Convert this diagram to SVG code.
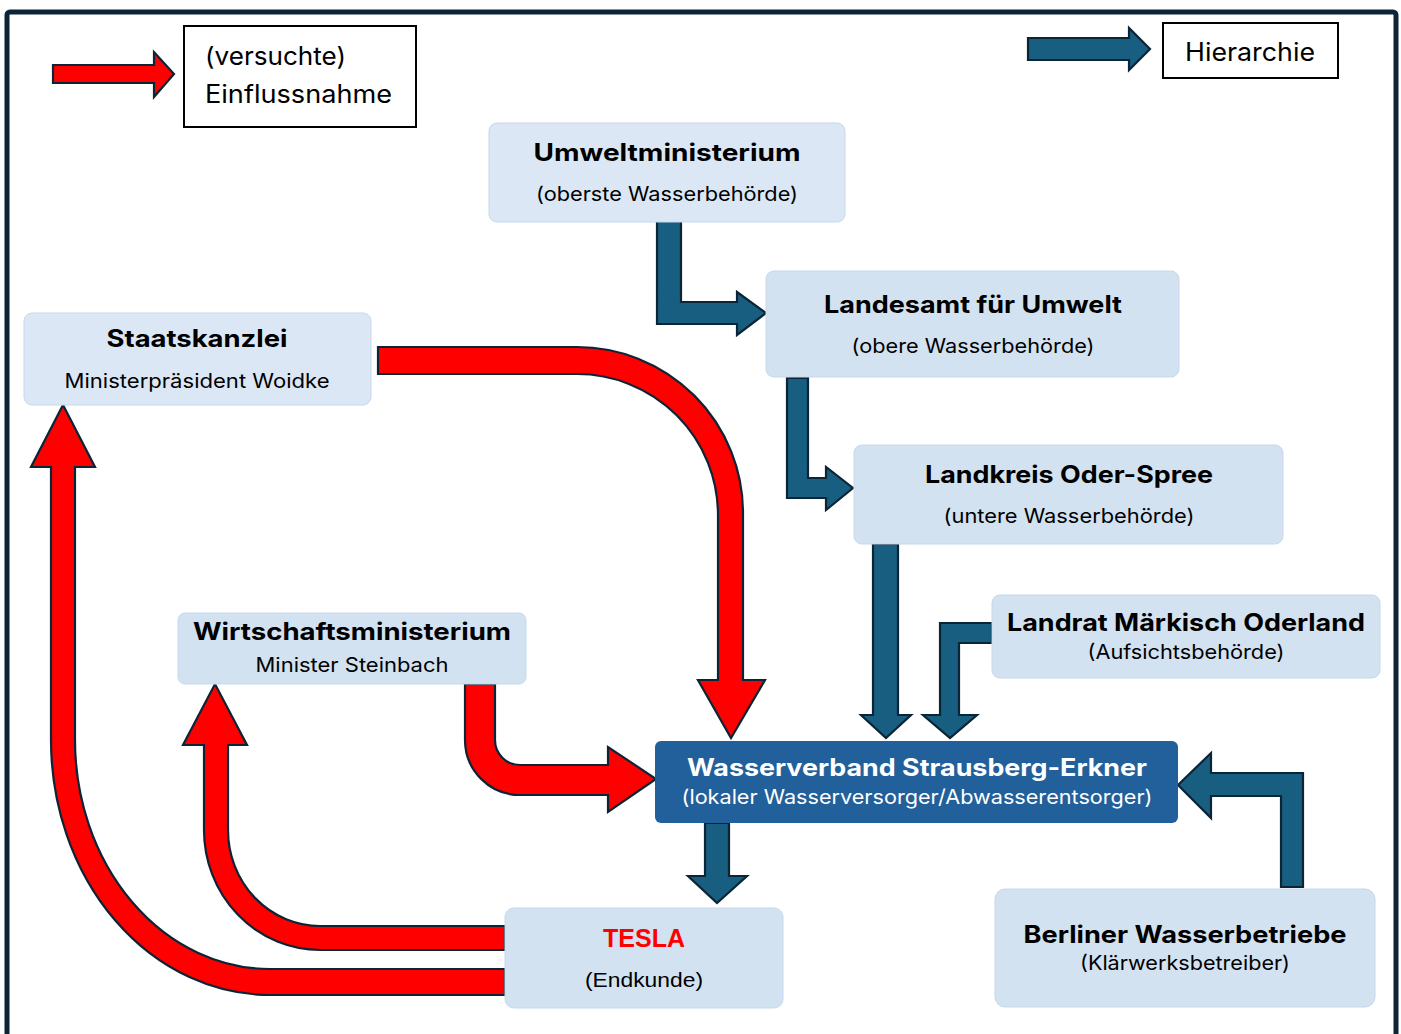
<svg xmlns="http://www.w3.org/2000/svg" width="1401" height="1034" viewBox="0 0 1401 1034">
<style>
.frame{fill:none;stroke:#0c2536;stroke-width:5}
.node{fill:#d3e2f1;stroke:#c6d9ec;stroke-width:1}
.light{fill:#dbe7f4}
.main{fill:#22609b}
.legbox{fill:#fff;stroke:#000;stroke-width:2}
.red{fill:#ff0000;stroke:#0c2536;stroke-width:2.2;stroke-linejoin:miter}
.blue{fill:#175e80;stroke:#0c2536;stroke-width:2.2;stroke-linejoin:miter}
.t{font-family:Inter,"Noto Sans","Open Sans",sans-serif;font-weight:700;font-size:24px;fill:#000;text-anchor:middle}
.s{font-family:Inter,"Noto Sans","Open Sans",sans-serif;font-size:20px;fill:#000;text-anchor:middle}
.w{fill:#fff}
.leg{font-family:Inter,"Noto Sans","Open Sans",sans-serif;font-size:25px;fill:#000}
.tesla{font-family:"Liberation Sans",Arial,sans-serif;font-weight:700;font-size:26px;fill:#ff0000;text-anchor:middle}
.end{font-family:"Liberation Sans",Arial,sans-serif;font-size:21px;fill:#000;text-anchor:middle}
</style>
<rect width="1401" height="1034" fill="#fff"/>
<rect class="frame" x="7" y="12" width="1389" height="1040" rx="3"/>

<g id="legend">
  <path class="red" d="M53,65 L154,65 L154,52 L174,74 L154,97 L154,83 L53,83 Z"/>
  <rect class="legbox" x="184" y="26" width="232" height="101"/>
  <text class="leg" x="205" y="65" textLength="141" lengthAdjust="spacingAndGlyphs">(versuchte)</text>
  <text class="leg" x="205" y="103" textLength="187" lengthAdjust="spacingAndGlyphs">Einflussnahme</text>
  <path class="blue" d="M1028,38 L1129,38 L1129,28 L1150,49 L1129,70 L1129,60 L1028,60 Z"/>
  <rect class="legbox" x="1163" y="23" width="175" height="55"/>
  <text class="leg" x="1185" y="61" textLength="130" lengthAdjust="spacingAndGlyphs">Hierarchie</text>
</g>

<g id="connectors">
  <path id="c-umwelt-landesamt" class="blue" d="M657,219 L681,219 L681,302 L737,302 L737,292 L766,313 L737,335 L737,324 L657,324 Z"/>
  <path id="c-landesamt-landkreis" class="blue" d="M787,378 L808,378 L808,478 L826,478 L826,467 L853,488 L826,510 L826,498 L787,498 Z"/>
  <path id="c-landkreis-wv" class="blue" d="M873,544 L898,544 L898,715 L911,715 L886,738 L861,715 L873,715 Z"/>
  <path id="c-landrat-wv" class="blue" d="M992,623 L940,623 L940,715 L923,715 L950,738 L977,715 L959,715 L959,643 L992,643 Z"/>
  <path id="c-wv-tesla" class="blue" d="M705,823 L729,823 L729,876 L747,876 L717,903 L688,876 L705,876 Z"/>
  <path id="c-bwb-wv" class="blue" d="M1281,887 L1303,887 L1303,773 L1211,773 L1211,753 L1178,785 L1211,818 L1211,796 L1281,796 Z"/>
  <path id="c-sk-wv" class="red" d="M378,347 L577,347 A166,166 0 0 1 743,513 L743,680 L765,680 L731,738 L698,680 L718,680 L718,515 A141,141 0 0 0 577,374 L378,374 Z"/>
  <path id="c-wm-wv" class="red" d="M465,684 L495,684 L495,740 A25,25 0 0 0 520,765 L608,765 L608,747 L656,779 L608,812 L608,795 L520,795 A55,55 0 0 1 465,740 Z"/>
  <path id="c-tesla-wm" class="red" d="M505,926 L320,926 A92,96 0 0 1 228,830 L228,745 L247,745 L215,684 L183,745 L204,745 L204,830 A116,120 0 0 0 320,950 L505,950 Z"/>
  <path id="c-tesla-sk" class="red" d="M505,969 L270,969 A195,229 0 0 1 75,740 L75,467 L95,467 L63,405 L31,467 L51,467 L51,740 A219,255 0 0 0 270,995 L505,995 Z"/>
</g>

<g id="umweltministerium">
  <rect class="node light" x="489" y="123" width="356" height="99" rx="8"/>
  <text class="t" x="667" y="161" textLength="267" lengthAdjust="spacingAndGlyphs">Umweltministerium</text>
  <text class="s" x="667" y="201" textLength="262" lengthAdjust="spacingAndGlyphs">(oberste Wasserbehörde)</text>
</g>
<g id="landesamt">
  <rect class="node" x="766" y="271" width="413" height="106" rx="8"/>
  <text class="t" x="973" y="313" textLength="298" lengthAdjust="spacingAndGlyphs">Landesamt für Umwelt</text>
  <text class="s" x="973" y="353" textLength="243" lengthAdjust="spacingAndGlyphs">(obere Wasserbehörde)</text>
</g>
<g id="landkreis">
  <rect class="node" x="854" y="445" width="429" height="99" rx="8"/>
  <text class="t" x="1069" y="483" textLength="288" lengthAdjust="spacingAndGlyphs">Landkreis Oder-Spree</text>
  <text class="s" x="1069" y="523" textLength="251" lengthAdjust="spacingAndGlyphs">(untere Wasserbehörde)</text>
</g>
<g id="landrat">
  <rect class="node" x="992" y="595" width="388" height="83" rx="8"/>
  <text class="t" x="1186" y="631" textLength="358" lengthAdjust="spacingAndGlyphs">Landrat Märkisch Oderland</text>
  <text class="s" x="1186" y="659" textLength="197" lengthAdjust="spacingAndGlyphs">(Aufsichtsbehörde)</text>
</g>
<g id="wasserverband">
  <rect class="main" x="655" y="741" width="523" height="82" rx="6"/>
  <text class="t w" x="917" y="776" textLength="460" lengthAdjust="spacingAndGlyphs">Wasserverband Strausberg-Erkner</text>
  <text class="s w" x="917" y="804" textLength="471" lengthAdjust="spacingAndGlyphs">(lokaler Wasserversorger/Abwasserentsorger)</text>
</g>
<g id="berliner">
  <rect class="node" x="995" y="889" width="380" height="118" rx="10"/>
  <text class="t" x="1185" y="943" textLength="323" lengthAdjust="spacingAndGlyphs">Berliner Wasserbetriebe</text>
  <text class="s" x="1185" y="970" textLength="210" lengthAdjust="spacingAndGlyphs">(Klärwerksbetreiber)</text>
</g>
<g id="tesla">
  <rect class="node" x="505" y="908" width="278" height="100" rx="9"/>
  <text class="tesla" x="644" y="947" textLength="82" lengthAdjust="spacingAndGlyphs">TESLA</text>
  <text class="end" x="644" y="987" textLength="118" lengthAdjust="spacingAndGlyphs">(Endkunde)</text>
</g>
<g id="wirtschaftsministerium">
  <rect class="node" x="178" y="613" width="348" height="71" rx="7"/>
  <text class="t" x="352" y="640" textLength="318" lengthAdjust="spacingAndGlyphs">Wirtschaftsministerium</text>
  <text class="s" x="352" y="672" textLength="193" lengthAdjust="spacingAndGlyphs">Minister Steinbach</text>
</g>
<g id="staatskanzlei">
  <rect class="node light" x="24" y="313" width="347" height="92" rx="8"/>
  <text class="t" x="197" y="347" textLength="181" lengthAdjust="spacingAndGlyphs">Staatskanzlei</text>
  <text class="s" x="197" y="388" textLength="265" lengthAdjust="spacingAndGlyphs">Ministerpräsident Woidke</text>
</g>
</svg>
